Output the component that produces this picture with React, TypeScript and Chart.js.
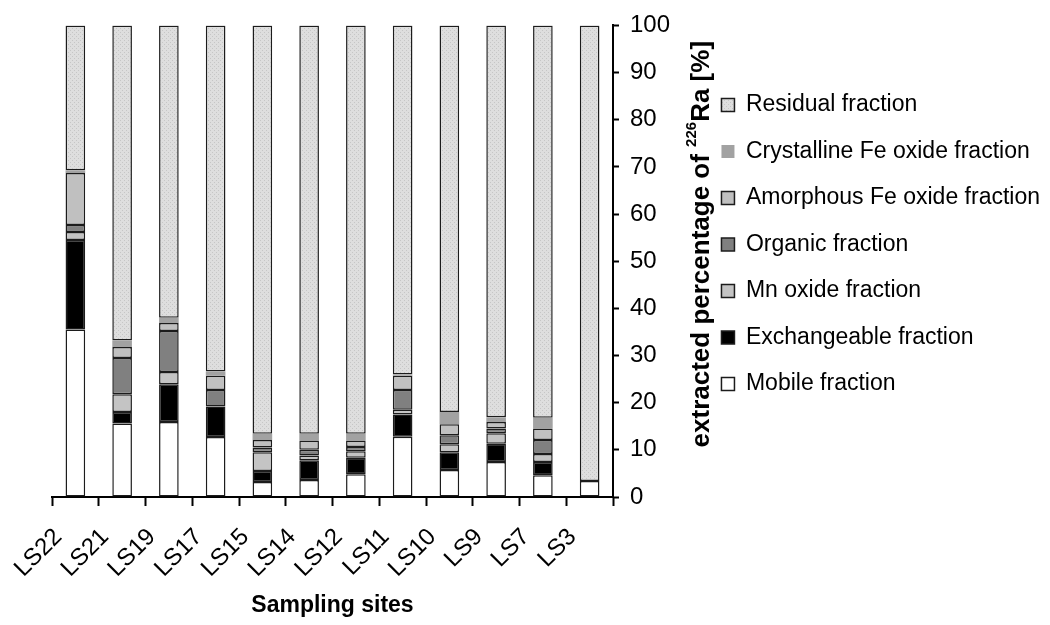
import React, { useEffect, useRef } from 'react';
import { Chart, registerables } from 'chart.js';

Chart.register(...registerables);

const categories = ['LS22', 'LS21', 'LS19', 'LS17', 'LS15', 'LS14', 'LS12', 'LS11', 'LS10', 'LS9', 'LS7', 'LS3'];

const mobile = [35.5, 15.6, 15.9, 12.7, 3.2, 3.6, 4.8, 12.8, 5.7, 7.4, 4.6, 3.4];
const exchangeable = [19.0, 2.4, 8.0, 6.5, 2.3, 4.2, 3.5, 4.7, 3.8, 3.9, 2.8, 0];
const mnOxide = [1.7, 3.8, 2.6, 0, 4.0, 1.0, 1.4, 1.0, 1.7, 2.2, 1.7, 0];
const organic = [1.5, 7.7, 8.7, 3.5, 1.0, 1.2, 0.9, 4.2, 1.9, 1.0, 3.0, 0];
const amorphousFe = [11.0, 2.3, 1.7, 3.0, 1.6, 2.0, 1.4, 3.0, 2.3, 1.4, 2.4, 0];
const crystallineFe = [0.6, 1.4, 1.1, 0.9, 1.3, 1.4, 1.4, 0.3, 2.6, 1.0, 2.3, 0];
const residual = [30.7, 66.8, 62.0, 73.4, 86.6, 86.6, 86.6, 74.0, 82.0, 83.1, 83.2, 96.6];

const yMin = 0;
const yMax = 100;
const yStep = 10;

const xTitle = 'Sampling sites';
const yTitleParts = ['extracted percentage of ', '226', 'Ra [%]'];

const FONT = "'Liberation Sans', Arial, sans-serif";
const BORDER = '#1c1c1c';

export default function App() {
  const ref = useRef<HTMLCanvasElement | null>(null);

  useEffect(() => {
    const canvas = ref.current;
    if (!canvas) return;

    const pc = document.createElement('canvas');
    pc.width = 4;
    pc.height = 4;
    const p = pc.getContext('2d')!;
    p.fillStyle = '#dedede';
    p.fillRect(0, 0, 4, 4);
    p.fillStyle = '#c6c6c6';
    p.fillRect(0, 0, 1, 1);
    p.fillRect(2, 2, 1, 1);
    const pattern = canvas.getContext('2d')!.createPattern(pc, 'repeat') as any;

    const yTitlePlugin = {
      id: 'yTitleUp',
      afterDraw(chart: any) {
        const ctx = chart.ctx as CanvasRenderingContext2D;
        const ys = chart.scales.y;
        const lg = chart.legend;
        const x = (lg ? lg.left : ys.right) + 4;
        const cy = (ys.top + ys.bottom) / 2 - 17;
        const big = `bold 26px ${FONT}`;
        const small = `bold 15px ${FONT}`;
        const parts: [string, string, number][] = [
          [yTitleParts[0], big, 0],
          [yTitleParts[1], small, -10],
          [yTitleParts[2], big, 0],
        ];
        ctx.save();
        let total = 0;
        const widths = parts.map(([t, f]) => {
          ctx.font = f;
          const w = ctx.measureText(t).width;
          total += w;
          return w;
        });
        ctx.translate(x, cy);
        ctx.rotate(-Math.PI / 2);
        ctx.textBaseline = 'middle';
        ctx.textAlign = 'left';
        ctx.fillStyle = '#000';
        let cx = -total / 2;
        parts.forEach(([t, f, dy], i) => {
          ctx.font = f;
          ctx.fillText(t, cx, dy);
          cx += widths[i];
        });
        ctx.restore();
      },
    };

    const common = {
      borderColor: BORDER,
      borderWidth: 1.5,
      borderSkipped: false as const,
      barPercentage: 0.42,
      categoryPercentage: 1.0,
    };

    const chart = new Chart(canvas, {
      type: 'bar',
      data: {
        labels: categories,
        datasets: [
          { label: 'Mobile fraction', data: mobile, backgroundColor: '#ffffff', ...common },
          { label: 'Exchangeable fraction', data: exchangeable, backgroundColor: '#000000', ...common },
          { label: 'Mn oxide fraction', data: mnOxide, backgroundColor: '#c4c4c4', ...common },
          { label: 'Organic fraction', data: organic, backgroundColor: '#808080', ...common },
          { label: 'Amorphous Fe oxide fraction', data: amorphousFe, backgroundColor: '#c0c0c0', ...common },
          { label: 'Crystalline Fe oxide fraction', data: crystallineFe, backgroundColor: '#a2a2a2', ...common, borderWidth: 0 },
          { label: 'Residual fraction', data: residual, backgroundColor: pattern, ...common },
        ],
      },
      options: {
        responsive: false,
        maintainAspectRatio: false,
        animation: false,
        devicePixelRatio: 1,
        layout: { padding: { left: 52, top: 22, right: 0, bottom: 0 } },
        plugins: {
          tooltip: { enabled: false },
          legend: {
            position: 'right',
            reverse: true,
            align: 'start',
            maxWidth: 420,
            title: { display: true, text: ' ', font: { size: 12 }, padding: { top: 33.6, bottom: 0 } },
            labels: {
              boxWidth: 13,
              boxHeight: 13,
              padding: 23.5,
              color: '#000',
              font: { family: FONT, size: 23 },
            },
          },
        },
        scales: {
          x: {
            stacked: true,
            offset: true,
            grid: {
              display: true,
              offset: true,
              drawOnChartArea: false,
              drawTicks: true,
              tickLength: 9,
              tickWidth: 2,
              tickColor: '#000',
            },
            border: { display: true, color: '#000', width: 2 },
            ticks: {
              autoSkip: false,
              maxRotation: 45,
              minRotation: 45,
              padding: 17,
              labelOffset: -17,
              color: '#000',
              font: { family: FONT, size: 24 },
            },
            title: {
              display: true,
              text: xTitle,
              color: '#000',
              font: { family: FONT, size: 23, weight: 'bold' },
              padding: { top: 0, bottom: 6 },
            },
            afterFit(s: any) {
              s.height = 128;
            },
          },
          y: {
            position: 'right',
            stacked: true,
            min: yMin,
            max: yMax,
            ticks: {
              stepSize: yStep,
              padding: 11,
              color: '#000',
              font: { family: FONT, size: 24 },
            },
            grid: {
              drawOnChartArea: false,
              drawTicks: true,
              tickLength: 6,
              tickWidth: 2,
              tickColor: '#000',
            },
            border: { display: true, color: '#000', width: 2 },
            afterFit(s: any) {
              const lg = s.chart.legend;
              const lw = lg && lg.width ? lg.width : 352;
              s.width = Math.max(60, s.chart.width - lw - 613);
            },
          },
        },
      } as any,
      plugins: [yTitlePlugin],
    });

    return () => chart.destroy();
  }, []);

  return (
    <div style={{ position: 'fixed', left: 0, top: 0, width: 1050, height: 625, background: '#fff' }}>
      <canvas ref={ref} width={1050} height={625} style={{ display: 'block' }} />
    </div>
  );
}
